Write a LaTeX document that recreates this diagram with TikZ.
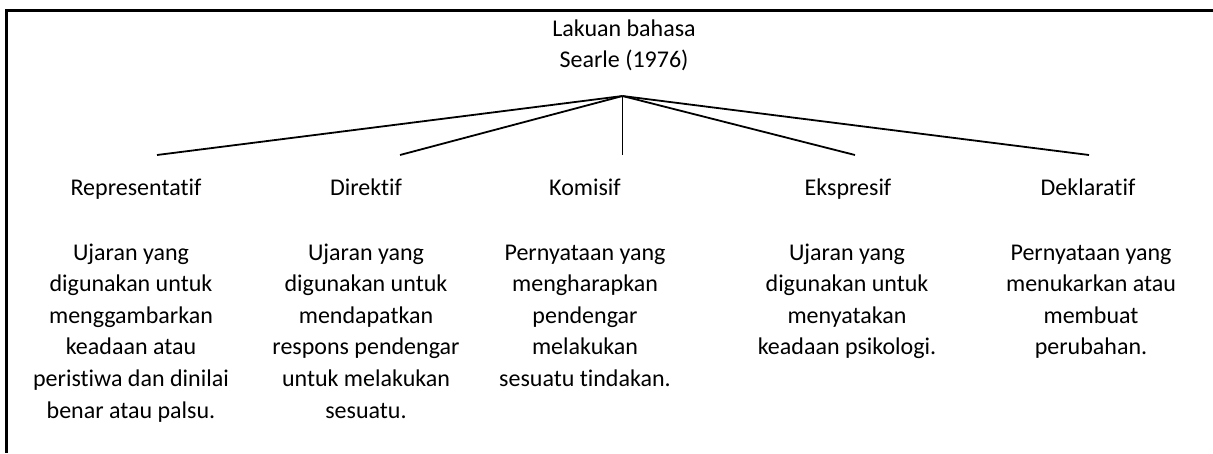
\documentclass[tikz,border=0pt]{standalone}
\usepackage{fontspec}
\setmainfont{Carlito}[Ligatures=CommonOff]
\usepackage{tikz}

\begin{document}
\begin{tikzpicture}[x=1pt,y=-1pt,font=\fontsize{24}{31.6}\selectfont,
	lbl/.style={anchor=base,inner sep=0pt},
	desc/.style={anchor=base,align=center,inner sep=0pt},
	link/.style={line width=1.8pt}]
	\useasboundingbox (0,0) rectangle (1213,453);
	\draw[line width=3pt] (1213,10) -- (6.5,10) -- (6.5,453);
	% root (base = last line)
	\node[desc] (root) at (624,67.6) {Lakuan bahasa\\Searle (1976)};
	\coordinate (hub) at (622.5,96);
	% five kinds
	\node[lbl] (rep) at (136,195) {Representatif};
	\node[lbl] (dir) at (366,195) {Direktif};
	\node[lbl] (kom) at (585,195) {Komisif};
	\node[lbl] (eks) at (848,195) {Ekspresif};
	\node[lbl] (dek) at (1088,195) {Deklaratif};
	\coordinate (rep-top) at (157,155);
	\coordinate (dir-top) at (400,155);
	\coordinate (kom-top) at (622.5,155);
	\coordinate (eks-top) at (855,155);
	\coordinate (dek-top) at (1089,155);
	\foreach \k in {rep,dir,kom,eks,dek}
		\draw[link] (hub) -- (\k-top);
	% descriptions, placed at the baseline of their last line
	\node[desc] (rep-txt) at (131,418) {Ujaran yang\\digunakan untuk\\menggambarkan\\keadaan atau\\peristiwa dan dinilai\\benar atau palsu.};
	\node[desc] (dir-txt) at (366,418) {Ujaran yang\\digunakan untuk\\mendapatkan\\respons pendengar\\untuk melakukan\\sesuatu.};
	\node[desc] (kom-txt) at (585,386.4) {Pernyataan yang\\mengharapkan\\pendengar\\melakukan\\sesuatu tindakan.};
	\node[desc] (eks-txt) at (847,354.8) {Ujaran yang\\digunakan untuk\\menyatakan\\keadaan psikologi.};
	\node[desc] (dek-txt) at (1091,354.8) {Pernyataan yang\\menukarkan atau\\membuat\\perubahan.};
\end{tikzpicture}
\end{document}
